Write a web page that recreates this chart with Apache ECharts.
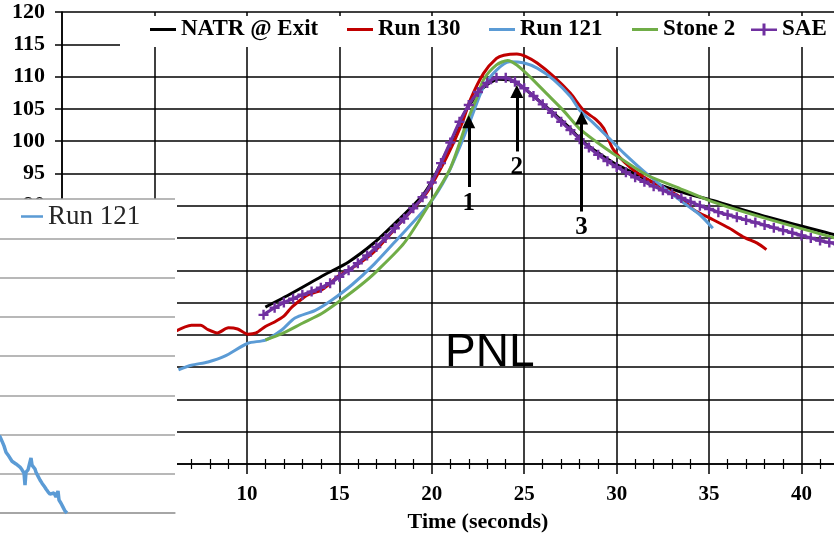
<!DOCTYPE html>
<html lang="en">
<head>
<meta charset="utf-8">
<title>NATR @ Exit vs runs</title>
<script src="https://cdn.jsdelivr.net/npm/echarts@6/dist/echarts.min.js"></script>
<style>
    html, body { margin: 0; padding: 0; background: #fff; }
    #main { width: 834px; height: 540px; }
</style>
</head>
<body>
<div id="main"></div>
<script type="text/javascript">
    // [time (s), value]
    var natr = [[11.0,74.3],[12.4,76.4],[14.2,79.3],[15.5,81.3],[16.9,84.3],[18.2,87.8],[19.5,91.6],[20.1,94.3],
        [20.9,99.0],[21.9,105.0],[22.8,108.3],[23.6,109.6],[24.2,109.5],[24.9,108.4],[25.7,106.5],[26.6,104.3],
        [27.4,102.2],[28.2,99.9],[29.1,98.0],[29.8,96.7],[30.9,95.1],[31.8,93.8],[33.4,92.2],[35.2,90.8],
        [38.1,88.3],[41.8,85.5],[42.5,85.0]];
    var run130 = [[6.1,70.5],[7.0,71.5],[7.5,71.5],[7.9,70.8],[8.4,70.3],[9.0,71.1],[9.5,70.9],[10.05,70.1],
        [10.5,70.3],[11.0,71.3],[11.5,72.0],[12.0,72.9],[12.4,74.2],[12.9,75.4],[13.3,76.2],[14.0,76.9],
        [14.4,77.7],[14.9,79.0],[15.6,80.2],[16.2,81.3],[16.9,82.9],[18.1,86.7],[19.7,91.9],[20.8,97.5],
        [21.6,102.5],[22.1,106.5],[22.8,110.5],[23.5,112.8],[23.9,113.3],[24.6,113.5],[25.1,113.1],[25.7,112.1],
        [26.6,110.0],[27.5,107.4],[28.2,104.8],[28.9,103.3],[29.3,102.0],[29.8,98.8],[30.7,96.0],[31.6,94.2],
        [33.4,91.4],[34.2,89.3],[35.1,88.0],[36.1,86.5],[36.9,85.1],[37.6,84.2],[38.1,83.2]];
    var run121 = [[6.3,64.6],[7.0,65.3],[7.9,65.8],[8.8,66.7],[10.05,68.7],[11.0,69.2],[11.9,70.8],[12.6,72.6],
        [13.7,73.8],[14.6,75.4],[15.7,77.8],[16.9,81.0],[18.1,84.7],[19.9,90.4],[20.8,94.5],[21.5,99.0],
        [22.1,103.3],[22.8,108.4],[23.5,111.0],[24.2,112.3],[25.0,112.1],[25.7,111.3],[26.6,109.5],[27.5,106.9],
        [28.0,104.8],[28.75,102.8],[29.5,100.7],[30.4,98.1],[31.6,95.0],[33.4,90.9],[34.5,88.6],[35.2,86.5]];
    var stone2 = [[11.0,69.2],[11.9,70.2],[13.0,71.8],[14.05,73.3],[15.1,75.4],[16.2,77.8],[17.0,79.8],[18.5,84.2],
        [19.9,90.4],[21.0,95.8],[21.9,103.0],[22.4,106.5],[22.8,109.5],[23.5,111.8],[24.1,112.5],[24.6,111.8],
        [25.3,110.0],[26.2,107.4],[27.1,104.8],[28.0,101.9],[28.9,99.9],[29.8,98.1],[31.6,94.8],[33.4,92.7],
        [35.2,90.6],[38.1,88.0],[41.8,85.0],[42.5,84.5]];
    var sae = [[10.9,73.1],[11.5,74.2],[12.0,75.0],[12.5,75.6],[13.0,76.2],[13.5,76.7],[14.0,77.3],[14.5,78.0],
        [15.0,79.0],[15.5,80.0],[16.0,81.1],[16.5,82.3],[17.0,83.6],[17.5,85.0],[18.0,86.5],[18.5,88.0],
        [19.0,89.6],[19.5,91.3],[20.0,93.6],[20.5,96.6],[21.0,99.8],[21.5,103.0],[22.0,105.6],[22.5,107.6],
        [23.0,109.0],[23.5,109.8],[24.0,109.8],[24.5,109.2],[25.0,108.2],[25.5,107.0],[26.0,105.7],[26.5,104.4],
        [27.0,103.0],[27.5,101.7],[28.0,100.3],[28.5,99.0],[29.0,97.9],[29.5,96.9],[30.0,96.0],[30.5,95.2],
        [31.0,94.4],[31.5,93.7],[32.0,93.0],[32.5,92.4],[33.0,91.8],[33.5,91.2],[34.0,90.6],[34.5,90.0],
        [35.0,89.5],[35.5,89.0],[36.0,88.6],[36.5,88.2],[37.0,87.8],[37.5,87.4],[38.0,87.0],[38.5,86.6],
        [39.0,86.2],[39.5,85.8],[40.0,85.4],[40.5,85.0],[41.0,84.6],[41.5,84.3],[42.0,84.0]];

    // arrows 1, 2, 3 (time, from, to)
    var arrowNames = ['1', '2', '3'];
    var arrowX = [22.0, 24.6, 28.1];
    var arrowFrom = [92.9, 98.4, 89.1];
    var arrowTo = [103.0, 107.7, 103.6];

    // pasted inset in the lower left (Run 121 trace)
    var insetRun121 = [[30,2.1],[40,1.94],[41,1.98],[42,1.83],[43,1.86],[44,1.71],[45,1.74],[46,1.55],[48,1.48],
        [49,1.52],[50,1.43],[52,1.32],[53,1.36],[54,1.30],[56,1.25],[57,1.29],[58,1.22],[60,1.17],[61,1.21],
        [62,1.10],[64,1.02],[65,0.71],[66,1.04],[68,1.10],[70,1.30],[71,1.40],[72,1.22],[74,1.20],[75,1.12],
        [76,1.04],[77,1.08],[78,0.94],[80,0.84],[81,0.88],[82,0.76],[84,0.69],[85,0.73],[86,0.61],[88,0.54],
        [89,0.58],[90,0.48],[92,0.46],[94,0.51],[96,0.41],[98,0.56],[99,0.33],[101,0.25],[103,0.15],[105,0.05],[107,0]];

    var serif = 'Liberation Serif';
    var colors = { 'NATR @ Exit': '#000000', 'Run 130': '#c00000', 'Run 121': '#5b9bd5', 'Stone 2': '#70ad47', 'SAE': '#7030a0' };
    var legendLeft = [150, 347, 489, 632, 751];
    var names = ['NATR @ Exit', 'Run 130', 'Run 121', 'Stone 2', 'SAE'];
    var plainIcon = 'path://M0,0H26V3H0Z';
    var plusIcon = 'path://M0,5H26V7.5H0Z M11.5,0H14.5V12H11.5Z';

    var arrowData = arrowX.map(function (x, i) {
        return [{ coord: [x, arrowFrom[i]], name: arrowNames[i] }, { coord: [x, arrowTo[i]] }];
    });

    var lineSeries = function (name, data) {
        return {
            name: name, type: 'line', data: data, xAxisIndex: 0, yAxisIndex: 0,
            symbol: 'none', smooth: 0.25, z: 2,
            lineStyle: { color: colors[name], width: 3 },
            itemStyle: { color: colors[name] }
        };
    };

    var series = [
        lineSeries('NATR @ Exit', natr),
        lineSeries('Run 130', run130),
        lineSeries('Run 121', run121),
        lineSeries('Stone 2', stone2),
        lineSeries('SAE', sae)
    ];
    // SAE has "+" markers
    series[4].symbol = 'path://M3.8,0H6.2V3.8H10V6.2H6.2V10H3.8V6.2H0V3.8H3.8Z';
    series[4].symbolSize = 10;
    series[4].showSymbol = true;
    series[4].lineStyle.width = 3.2;
    series[0].markLine = {
        silent: true, symbol: ['none', 'triangle'], symbolSize: 13, z: 6,
        lineStyle: { color: '#000', width: 3, type: 'solid' },
        label: { show: true, position: 'start', formatter: '{b}', distance: 4,
            fontFamily: serif, fontWeight: 'bold', fontSize: 25, color: '#000' },
        data: arrowData
    };
    series.push({
        name: 'Run 121', type: 'line', data: insetRun121, xAxisIndex: 2, yAxisIndex: 1,
        symbol: 'none', z: 11, lineStyle: { color: '#5b9bd5', width: 3.5 }
    });

    var legends = names.map(function (n, i) {
        return {
            data: [{ name: n, icon: n === 'SAE' ? plusIcon : plainIcon }],
            left: legendLeft[i], top: 18, padding: 0, itemWidth: 26, itemHeight: n === 'SAE' ? 12 : 3, z: 6,
            textStyle: { fontFamily: serif, fontWeight: 'bold', fontSize: 23, color: '#000' }
        };
    });
    legends.push({
        data: [{ name: 'Run 121', icon: plainIcon }], left: 21, top: 203, padding: 0, itemWidth: 22, itemHeight: 3, z: 12,
        textStyle: { fontFamily: serif, fontSize: 27, color: '#262626' }
    });

    var myChart = echarts.init(document.getElementById('main'));
    myChart.setOption({
        animation: false,
        backgroundColor: '#fff',
        legend: legends,
        grid: [
            { left: 62, top: 12, width: 832, height: 452, containLabel: false, outerBoundsMode: 'none' },
            { left: -40, top: 199, width: 215, height: 314, containLabel: false, outerBoundsMode: 'none' }
        ],
        xAxis: [{
            type: 'value', gridIndex: 0, min: 0, max: 45, interval: 5, z: 1,
            name: 'Time (seconds)', nameLocation: 'middle', nameGap: 47,
            nameTextStyle: { fontFamily: serif, fontWeight: 'bold', fontSize: 22, color: '#000' },
            axisLine: { lineStyle: { color: '#000', width: 1.5 } },
            axisTick: { length: 10, lineStyle: { color: '#000', width: 1.5 } },
            minorTick: { show: true, splitNumber: 5, length: 5, lineStyle: { color: '#000', width: 1.2 } },
            axisLabel: { margin: 20, fontFamily: serif, fontWeight: 'bold', fontSize: 21, color: '#000' },
            splitLine: { lineStyle: { color: '#000', width: 1.5 } }
        }, {
            type: 'value', gridIndex: 0, min: 0, max: 45, interval: 5, position: 'bottom', z: 1,
            axisLine: { show: false },
            axisTick: { show: false, inside: true },
            minorTick: { show: true, splitNumber: 5, length: 5, lineStyle: { color: '#000', width: 1.2 } },
            axisLabel: { show: false },
            splitLine: { show: false }
        }, {
            type: 'value', gridIndex: 1, min: 0, max: 215, position: 'bottom', offset: 25, z: 10,
            axisLine: { lineStyle: { color: '#a0a0a0', width: 1.5 } },
            axisTick: { show: false }, axisLabel: { show: false }, splitLine: { show: false }
        }],
        yAxis: [{
            type: 'value', gridIndex: 0, min: 50, max: 120, interval: 5, z: 1,
            axisLine: { show: true, lineStyle: { color: '#000', width: 1.5 } },
            axisTick: { show: true, length: 7, lineStyle: { color: '#000', width: 1.5 } },
            axisLabel: { margin: 17, fontFamily: serif, fontWeight: 'bold', fontSize: 22, color: '#000' },
            splitLine: { lineStyle: { color: '#000', width: 1.5 } }
        }, {
            type: 'value', gridIndex: 1, min: 0, max: 8, interval: 1, position: 'right', z: 10,
            axisLine: { show: true, lineStyle: { color: '#a0a0a0', width: 1.5 } },
            axisTick: { show: false }, axisLabel: { show: false },
            splitLine: { lineStyle: { color: '#a0a0a0', width: 1.5 } }
        }],
        graphic: [
            // white band behind the legend, white patch under the pasted inset
            { type: 'rect', z: 3, shape: { x: 120, y: 16, width: 720, height: 31 }, style: { fill: '#fff' } },
            { type: 'rect', z: 3, shape: { x: -10, y: 199, width: 187, height: 350 }, style: { fill: '#fff' } },
            { type: 'text', z: 5, left: 445, top: 330,
              style: { text: 'PNL', fontFamily: 'Liberation Sans', fontSize: 46, fill: '#000' } }
        ],
        series: series
    });
</script>
</body>
</html>
